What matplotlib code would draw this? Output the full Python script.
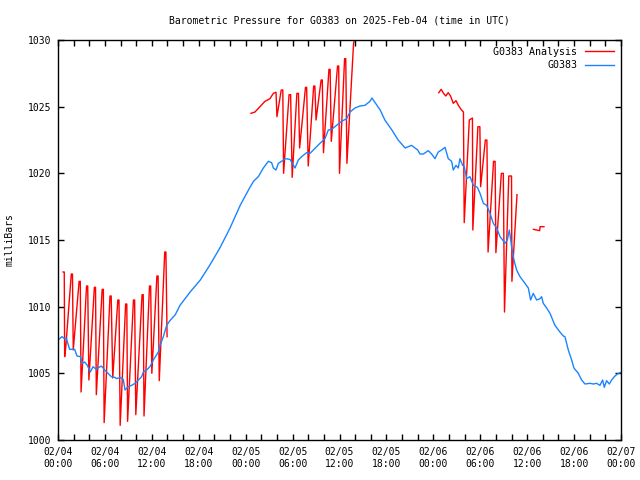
import numpy as np
import matplotlib
matplotlib.use("Agg")
import matplotlib.pyplot as plt

nan = np.nan

# G0383 observations (hours since 02/04 00:00 UTC, millibars)
obs_hours = [0.0, 0.21, 0.51, 0.85, 1.07, 1.28, 1.49, 2.13, 2.43, 2.86, 3.11, 3.41, 3.75,
             4.13, 4.48, 4.9, 5.11, 5.54, 5.97, 6.39, 6.82, 7.25, 7.5, 7.93, 8.35, 8.57,
             9.0, 9.42, 9.85, 10.27, 10.7, 10.91, 11.34, 11.76, 12.19, 12.83, 13.05, 13.47,
             13.9, 14.24, 15.0, 15.6, 16.9, 18.2, 19.4, 20.7, 22.0, 23.3, 24.5, 25.0,
             25.62, 26.26, 26.9, 27.32, 27.54, 27.88, 28.18, 28.6, 29.03, 29.67, 29.97,
             30.31, 30.73, 31.16, 31.8, 32.23, 32.65, 33.5, 34.14, 34.57, 34.99, 35.63,
             36.27, 36.91, 37.34, 37.98, 38.62, 39.26, 39.9, 40.15, 41.2, 41.8, 42.7,
             43.5, 44.4, 45.2, 46.0, 46.29, 46.72, 47.36, 47.78, 48.21, 48.63, 49.06,
             49.49, 49.91, 50.34, 50.55, 50.9, 51.19, 51.4, 51.75, 51.96, 52.26, 52.69,
             53.12, 53.63, 53.97, 54.4, 54.82, 55.25, 55.67, 56.1, 56.53, 56.87, 57.16,
             57.46, 57.72, 58.01, 58.31, 58.65, 59.08, 59.72, 60.15, 60.44, 60.78, 61.21,
             61.64, 61.85, 62.06, 62.49, 62.92, 63.55, 64.19, 64.62, 64.83, 65.26, 65.69,
             65.98, 66.54, 66.96, 67.39, 68.03, 68.46, 68.88, 69.31, 69.65, 69.86, 70.16,
             70.5, 70.8, 71.23, 71.65, 71.95]
obs_mb = [1007.5, 1007.6, 1007.75, 1007.6, 1007.65, 1007.2, 1006.8, 1006.8, 1006.3, 1006.25,
          1005.75, 1005.85, 1005.6, 1005.1, 1005.5, 1005.3, 1005.4, 1005.55, 1005.25, 1005.0,
          1004.75, 1004.7, 1004.6, 1004.7, 1004.55, 1003.75, 1004.0, 1004.1, 1004.25, 1004.5,
          1004.75, 1005.1, 1005.25, 1005.5, 1006.0, 1006.6, 1007.1, 1007.75, 1008.6, 1008.9,
          1009.4, 1010.1, 1011.1, 1012.0, 1013.1, 1014.4, 1015.9, 1017.6, 1018.9, 1019.4,
          1019.75, 1020.4, 1020.9, 1020.8, 1020.4, 1020.25, 1020.75, 1020.9, 1021.1, 1021.05,
          1020.75, 1020.4, 1021.0, 1021.25, 1021.55, 1021.5, 1021.75, 1022.25, 1022.6, 1023.25,
          1023.3, 1023.6, 1023.9, 1024.1, 1024.6, 1024.9, 1025.05, 1025.1, 1025.4, 1025.65,
          1024.75, 1024.0, 1023.25, 1022.5, 1021.9, 1022.1, 1021.75, 1021.45, 1021.45, 1021.7,
          1021.45, 1021.1, 1021.6, 1021.75, 1021.95, 1021.1, 1020.9, 1020.25, 1020.6, 1020.4,
          1021.1, 1020.6, 1020.5, 1019.6, 1019.75, 1019.1, 1018.95, 1018.5, 1017.75, 1017.6,
          1017.0, 1016.25, 1015.9, 1015.25, 1015.0, 1014.75, 1015.0, 1015.75, 1014.5, 1013.5,
          1012.75, 1012.25, 1011.75, 1011.4, 1010.5, 1011.0, 1010.5, 1010.6, 1010.75, 1010.25,
          1009.9, 1009.5, 1008.6, 1008.1, 1007.8, 1007.75, 1006.75, 1006.0, 1005.4, 1005.0,
          1004.5, 1004.2, 1004.25, 1004.2, 1004.25, 1004.1, 1004.5, 1003.95, 1004.45, 1004.2,
          1004.5, 1004.8, 1005.0, 1005.05]

# G0383 analysis (NaN separates the pieces)
ana_hours = [0.65, 0.8, 0.85, 1.0, 1.7, 1.85, 1.95, 2.7, 2.85, 2.95, 3.65, 3.8, 3.95,
             4.65, 4.8, 4.9, 5.65, 5.8, 5.9, 6.65, 6.8, 7.0, 7.65, 7.8, 7.95, 8.65, 8.8,
             8.9, 9.65, 9.8, 9.95, 10.75, 10.9, 11.0, 11.7, 11.85, 12.0, 12.65, 12.8,
             12.95, 13.65, 13.8, 13.95, nan,
             24.68, 25.19, 25.83, 26.47, 27.11, 27.54, 27.88, 28.0, 28.55, 28.75, 28.85,
             29.55, 29.75, 29.95, 30.55, 30.75, 30.9, 31.65, 31.8, 32.0, 32.7, 32.85, 33.0,
             33.65, 33.8, 33.95, 34.65, 34.8, 34.95, 35.75, 35.9, 36.0, 36.65, 36.8, 36.95,
             37.8, 38.1, nan,
             48.7, 49.0, 49.3, 49.6, 49.9, 50.2, 50.55, 50.9, 51.2, 51.6, 51.85, 51.95, 52.6,
             53.0, 53.05, 53.7, 53.95, 54.05, 54.65, 54.85, 55.0, 55.7, 55.9, 56.0, 56.7,
             56.95, 57.1, 57.65, 58.0, 58.05, 58.7, nan,
             60.8, 61.6, 61.65, 62.15]
ana_mb = [1012.6, 1012.6, 1006.25, 1007.0, 1012.45, 1012.45, 1006.75, 1011.9, 1011.9, 1003.6,
          1011.55, 1011.55, 1004.5, 1011.45, 1011.45, 1003.4, 1011.3, 1011.3, 1001.3, 1010.8,
          1010.8, 1004.65, 1010.5, 1010.5, 1001.1, 1010.2, 1010.2, 1001.4, 1010.5, 1010.5,
          1001.9, 1010.9, 1010.9, 1001.8, 1011.55, 1011.55, 1005.0, 1012.3, 1012.3, 1004.45,
          1014.1, 1014.1, 1007.75, nan,
          1024.5, 1024.6, 1025.0, 1025.4, 1025.6, 1026.0, 1026.08, 1024.25, 1026.25, 1026.25,
          1020.0, 1025.9, 1025.9, 1019.7, 1026.0, 1026.0, 1021.9, 1026.45, 1026.45, 1020.55,
          1026.55, 1026.55, 1024.0, 1027.0, 1027.0, 1021.55, 1027.8, 1027.8, 1022.4, 1028.05,
          1028.05, 1020.0, 1028.6, 1028.6, 1020.75, 1029.75, 1030.5, nan,
          1026.05, 1026.3, 1026.0, 1025.8, 1026.05, 1025.8, 1025.25, 1025.45, 1025.1, 1024.75,
          1024.6, 1016.3, 1024.0, 1024.15, 1015.75, 1023.5, 1023.5, 1019.0, 1022.5, 1022.5,
          1014.1, 1020.9, 1020.9, 1014.05, 1020.0, 1020.0, 1009.6, 1019.8, 1019.8, 1011.9,
          1018.4, nan,
          1015.8, 1015.7, 1016.0, 1016.0]

tick_hours = [0, 6, 12, 18, 24, 30, 36, 42, 48, 54, 60, 66, 72]
tick_labels = ["02/04\n00:00", "02/04\n06:00", "02/04\n12:00", "02/04\n18:00",
               "02/05\n00:00", "02/05\n06:00", "02/05\n12:00", "02/05\n18:00",
               "02/06\n00:00", "02/06\n06:00", "02/06\n12:00", "02/06\n18:00",
               "02/07\n00:00"]

plt.rcParams['font.family'] = ['DejaVu Sans Mono']
plt.rcParams['font.size'] = 7

fig = plt.figure(figsize=(6.4, 4.8), dpi=100)
ax = fig.add_axes([58/640, 40/480, (621-58)/640, 400/480])

ax.plot(ana_hours, ana_mb, color="#ff0000", lw=1.0, label="G0383 Analysis")
ax.plot(obs_hours, obs_mb, color="#1a84ff", lw=1.0, label="G0383")

ax.set_xlim(0, 72)
ax.set_ylim(1000, 1030)
ax.set_xticks(tick_hours)
ax.set_xticklabels(tick_labels)
ax.set_xticks(np.arange(0, 73, 2), minor=True)
ax.set_yticks(np.arange(1000, 1031, 5))
ax.tick_params(which="both", direction="in", top=True, right=True, length=4, width=1, labelsize=7)
ax.tick_params(axis="x", which="major", pad=5)
ax.tick_params(axis="y", which="major", pad=5)
for s in ax.spines.values():
    s.set_linewidth(1)

ax.set_title("Barometric Pressure for G0383 on 2025-Feb-04 (time in UTC)", fontsize=7, pad=12)
fig.text(10/640, 0.5, "milliBars", rotation=90, ha="center", va="center", fontsize=7)

ax.legend(loc="upper right", frameon=False, markerfirst=False, handlelength=2.9,
          handletextpad=0.8, labelspacing=0.35, borderaxespad=0.3, fontsize=7.2)

plt.savefig("out.png", dpi=100)
